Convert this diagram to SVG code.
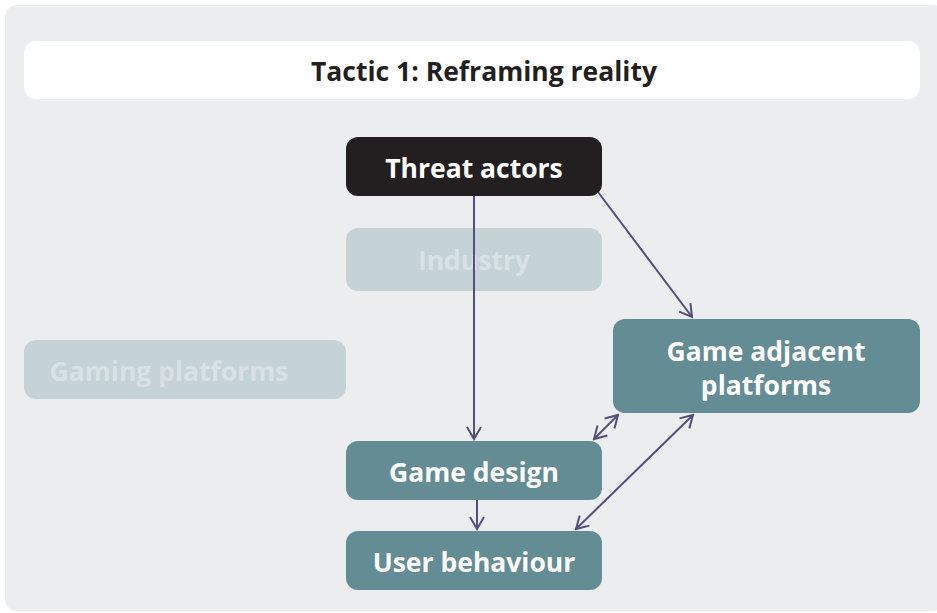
<svg xmlns="http://www.w3.org/2000/svg" width="937" height="613" viewBox="0 0 937 613">
<style>
.t{font-family:"Open Sans","Liberation Sans",sans-serif;font-weight:bold;text-anchor:middle}
.node{fill:#648c95}
.nt{fill:#ffffff;font-size:26.5px}
.ghost{fill:#c5d2d6}
.gt{fill:#d9e1e4;font-size:26.5px}
.c{stroke:#544d80;stroke-width:2;fill:none}
</style>
<defs>
<marker id="ah" viewBox="0 0 16 16" refX="14" refY="8" markerWidth="16" markerHeight="16" markerUnits="userSpaceOnUse" orient="auto-start-reverse">
<path d="M2,1 L14,8 L2,15" fill="none" stroke="#544d80" stroke-width="2"/>
</marker>
</defs>
<rect x="5" y="5" width="940" height="606" rx="12" fill="#ecedef"/>
<g id="title">
<rect x="24" y="41" width="896" height="58" rx="12" fill="#ffffff"/>
<text class="t" x="484" y="81" font-size="26.5" fill="#231f20">Tactic 1: Reframing reality</text>
</g>
<g id="industry">
<rect class="ghost" x="346" y="228" width="256" height="63" rx="12"/>
<text class="t gt" x="474" y="270">Industry</text>
</g>
<g id="gaming-platforms">
<rect class="ghost" x="24" y="340" width="322" height="59" rx="12"/>
<text class="t gt" x="169" y="381">Gaming platforms</text>
</g>
<g id="threat-actors">
<rect x="346" y="137" width="256" height="59" rx="12" fill="#231f20"/>
<text class="t nt" x="474" y="178">Threat actors</text>
</g>
<g id="game-adjacent">
<rect class="node" x="613" y="319" width="307" height="94" rx="12"/>
<text class="t nt" x="766" y="361">Game adjacent</text>
<text class="t nt" x="766" y="395">platforms</text>
</g>
<g id="game-design">
<rect class="node" x="346" y="441" width="256" height="59" rx="12"/>
<text class="t nt" x="474" y="482">Game design</text>
</g>
<g id="user-behaviour">
<rect class="node" x="346" y="531" width="256" height="59" rx="12"/>
<text class="t nt" x="474" y="572">User behaviour</text>
</g>
<g id="connectors">
<line class="c" x1="474" y1="196" x2="474" y2="439" marker-end="url(#ah)"/>
<line class="c" x1="598" y1="192" x2="692" y2="317" marker-end="url(#ah)"/>
<line class="c" x1="594" y1="439" x2="618" y2="415" marker-start="url(#ah)" marker-end="url(#ah)"/>
<line class="c" x1="576" y1="529" x2="693" y2="415" marker-start="url(#ah)" marker-end="url(#ah)"/>
<line class="c" x1="477" y1="500" x2="477" y2="529" marker-end="url(#ah)"/>
</g>
</svg>
